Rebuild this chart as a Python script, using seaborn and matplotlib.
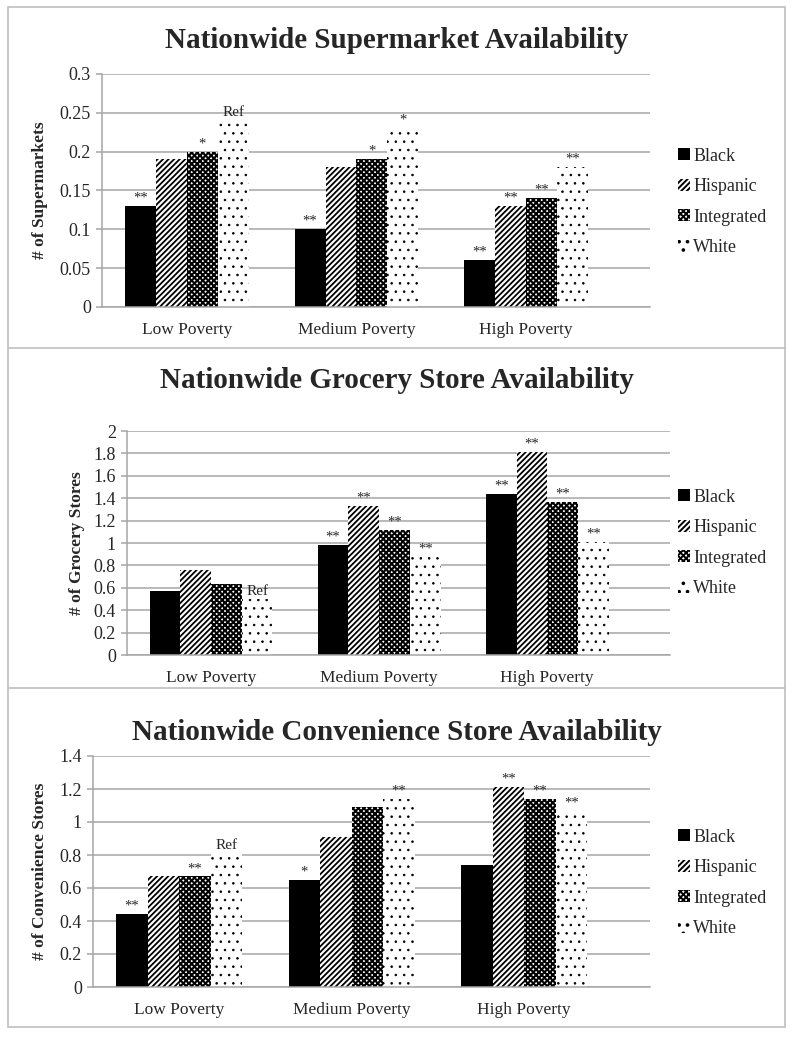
import matplotlib
matplotlib.use("Agg")
import matplotlib.pyplot as plt  # Graphics
from matplotlib.patches import Rectangle
from matplotlib.lines import Line2D
from matplotlib.ticker import MultipleLocator, FuncFormatter
import seaborn as sns  # Graphics
import pandas as pd  # Tabular data manipulation

# Categories
poverty = ["Low Poverty", "Medium Poverty", "High Poverty"]
groups = ["Black", "Hispanic", "Integrated", "White"]

# Values, one row per poverty level, in the order of `groups`
supermarket = [
    [0.13, 0.19, 0.20, 0.24],
    [0.10, 0.18, 0.19, 0.23],
    [0.06, 0.13, 0.14, 0.18],
]
grocery = [
    [0.57, 0.76, 0.63, 0.50],
    [0.98, 1.33, 1.12, 0.88],
    [1.44, 1.81, 1.37, 1.01],
]
convenience = [
    [0.44, 0.67, 0.67, 0.81],
    [0.65, 0.91, 1.09, 1.14],
    [0.74, 1.21, 1.14, 1.07],
]

# Significance marks above the bars
supermarket_sig = [
    ["**", "", "*", "Ref"],
    ["**", "", "*", "*"],
    ["**", "**", "**", "**"],
]
grocery_sig = [
    ["", "", "", "Ref"],
    ["**", "**", "**", "**"],
    ["**", "**", "**", "**"],
]
convenience_sig = [
    ["**", "", "**", "Ref"],
    ["*", "", "", "**"],
    ["", "**", "**", "**"],
]

titles = [
    "Nationwide Supermarket Availability",
    "Nationwide Grocery Store Availability",
    "Nationwide Convenience Store Availability",
]
ylabels = ["# of Supermarkets", "# of Grocery Stores", "# of Convenience Stores"]


def long_table(values):
    rows = []
    for pov, row in zip(poverty, values):
        for grp, v in zip(groups, row):
            rows.append({"poverty": pov, "group": grp, "value": v})
    return pd.DataFrame(rows)


sns.set_theme(style="white")
plt.rcParams["font.family"] = ["Liberation Serif", "DejaVu Serif"]
plt.rcParams["hatch.linewidth"] = 1.4

W, H = 794, 1037
fig = plt.figure(figsize=(W / 100, H / 100), dpi=100)
fig.patch.set_facecolor("white")


def fx(x):
    return x / W


def fy(y):
    return 1 - y / H


# bar styles: face, edge(=hatch colour), hatch, hatch linewidth
styles = {
    "Black": ("black", "black", None, 1.0),
    "Hispanic": ("white", "black", "//////", 1.3),
    "Integrated": ("white", "black", "xxxxxx", 1.5),
    "White": ("white", "black", "..", 0.6),
}


def style_patch(p, grp):
    fc, ec, hatch, hlw = styles[grp]
    p.set_facecolor(fc)
    p.set_edgecolor(ec)
    p.set_linewidth(0)
    if hatch:
        p.set_hatch(hatch)
        if hasattr(p, "set_hatch_linewidth"):
            p.set_hatch_linewidth(hlw)


# layout per panel: axes box (left, top, right, bottom) in px, title y, ylabel x,
# legend centre y, y max, tick step
layout = [
    ((102, 74, 650, 307), 40, 40, 202, 0.3, 0.05),
    ((127, 431, 670, 655), 380, 77, 543, 2.0, 0.2),
    ((93, 756, 650, 987), 733, 40, 883, 1.4, 0.2),
]
datasets = [supermarket, grocery, convenience]
marks = [supermarket_sig, grocery_sig, convenience_sig]

grid_c = "#a6a6a6"

for values, sig, title, ylab, (box, ty, ylx, legy, ymax, step) in zip(
    datasets, marks, titles, ylabels, layout
):
    l, t, r, b = box
    ax = fig.add_axes([fx(l), fy(b), fx(r) - fx(l), fy(t) - fy(b)])
    df = long_table(values)
    sns.barplot(
        data=df, x="poverty", y="value", hue="group",
        order=poverty, hue_order=groups,
        palette=["black", "white", "white", "white"],
        width=0.73, ax=ax, legend=False, linewidth=0,
    )
    for grp, cont in zip(groups, ax.containers):
        for bar in cont:
            style_patch(bar, grp)
    # significance labels
    for gi, cont in enumerate(ax.containers):
        for pi, bar in enumerate(cont):
            s = sig[pi][gi]
            if not s:
                continue
            ax.annotate(
                s, (bar.get_x() + bar.get_width() / 2, bar.get_height()),
                xytext=(0, 1), textcoords="offset points",
                ha="center", va="bottom",
                fontsize=11 if s == "Ref" else 10.5,
            )
    ax.set_xlim(-0.5, 2.73)
    ax.set_ylim(0, ymax)
    ax.yaxis.set_major_locator(MultipleLocator(step))
    ax.yaxis.set_major_formatter(FuncFormatter(lambda v, p: f"{round(v, 3):g}"))
    ax.set_axisbelow(True)
    ax.grid(axis="y", color=grid_c, lw=1.1)
    for side in ["top", "right"]:
        ax.spines[side].set_visible(False)
    for side in ["left", "bottom"]:
        ax.spines[side].set_color(grid_c)
        ax.spines[side].set_linewidth(1.1)
    ax.tick_params(axis="y", left=True, length=4, width=1.1, color=grid_c,
                   labelsize=13, pad=4)
    ax.tick_params(axis="x", bottom=False, labelsize=12.5, pad=5)
    ax.set_xlabel("")
    ax.set_ylabel(ylab, fontsize=12.5, fontweight="bold")
    ax.yaxis.set_label_coords(fx(ylx), fy((t + b) / 2), transform=fig.transFigure)
    ax.yaxis.label.set_va("center")
    fig.text(0.5, fy(ty), title, ha="center", va="center",
             fontsize=21, fontweight="bold")
    # legend
    handles = []
    for grp in groups:
        h = Rectangle((0, 0), 1, 1)
        style_patch(h, grp)
        handles.append(h)
    ax.legend(handles, groups, loc="center left",
              bbox_to_anchor=(fx(678), fy(legy)), bbox_transform=fig.transFigure,
              frameon=False, fontsize=13, borderpad=0, borderaxespad=0,
              handlelength=0.65, handleheight=0.65, handletextpad=0.2,
              labelspacing=0.75)

# panel frames
border_c = "#bfbfbf"
fig.add_artist(Rectangle((fx(8), fy(1027)), fx(785) - fx(8), fy(7) - fy(1027),
                         transform=fig.transFigure, fill=False,
                         edgecolor=border_c, lw=1.2))
for yy in [348, 688]:
    fig.add_artist(Line2D([fx(8), fx(785)], [fy(yy), fy(yy)],
                          transform=fig.transFigure, color=border_c, lw=1.2))

fig.savefig("out.png", dpi=100, facecolor="white")
